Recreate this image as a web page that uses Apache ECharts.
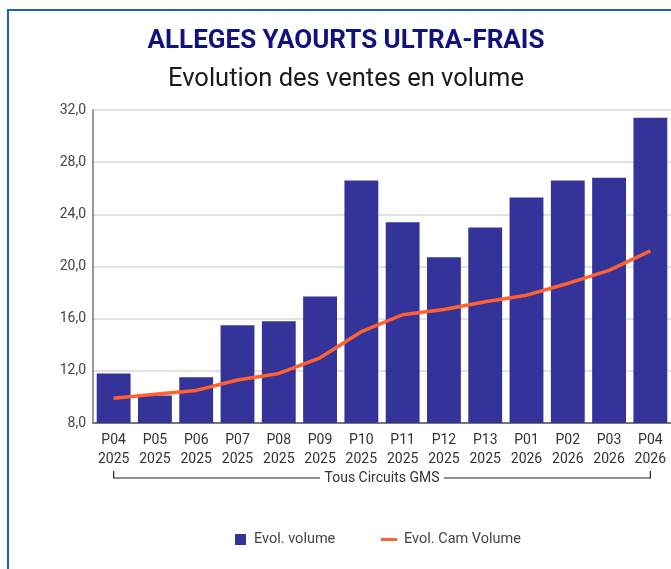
<!DOCTYPE html>
<html>
<head>
<meta charset="utf-8">
<script src="https://cdn.jsdelivr.net/npm/echarts@6/dist/echarts.min.js"></script>
<style>
	html, body { margin: 0; padding: 0; background: #fff; overflow: hidden; }
	#frame {
		position: absolute; left: 7px; top: 9px;
		width: 674px; height: 580px;
		border: 2px solid #1E5FAF;
	}
	#main { width: 674px; height: 580px; }
</style>
</head>
<body>
<div id="frame"><div id="main"></div></div>
<script>
	var periods = ['P04', 'P05', 'P06', 'P07', 'P08', 'P09', 'P10', 'P11', 'P12', 'P13', 'P01', 'P02', 'P03', 'P04'];
	var years = ['2025', '2025', '2025', '2025', '2025', '2025', '2025', '2025', '2025', '2025', '2026', '2026', '2026', '2026'];
	var volume = [11.8, 10.1, 11.5, 15.5, 15.8, 17.7, 26.6, 23.4, 20.7, 23.0, 25.3, 26.6, 26.8, 31.4];
	var camVolume = [9.9, 10.2, 10.5, 11.3, 11.8, 13.0, 15.0, 16.3, 16.7, 17.3, 17.8, 18.7, 19.7, 21.2];
	var groupLabel = 'Tous Circuits GMS';

	var categories = periods.map(function(p, i) {
		return p + '\n' + years[i];
	});

	var myChart = echarts.init(document.getElementById('main'));
	var font = 'Roboto, "Noto Sans", sans-serif';

	var option = {
		backgroundColor: '#fff',
		animation: false,
		textStyle: { fontFamily: font },
		title: [{
			text: 'ALLEGES YAOURTS ULTRA-FRAIS',
			left: 'center',
			top: 12,
			textStyle: {
				color: '#11117F',
				fontSize: 26,
				fontWeight: 'bold',
				fontFamily: font
			}
		}, {
			text: 'Evolution des ventes en volume',
			left: 'center',
			top: 51,
			textStyle: {
				color: '#1a1a1a',
				fontSize: 25.5,
				fontWeight: 'normal',
				fontFamily: font
			}
		}],
		legend: [{
			data: ['Evol. volume'],
			left: 221,
			top: 516,
			icon: 'rect',
			itemWidth: 11,
			itemHeight: 11,
			textStyle: { color: '#444', fontSize: 14.5, padding: [0, 0, 0, 3] }
		}, {
			data: ['Evol. Cam Volume'],
			left: 367,
			top: 516,
			icon: 'rect',
			itemWidth: 16,
			itemHeight: 3,
			textStyle: { color: '#444', fontSize: 14.5, padding: [0, 0, 0, 2] }
		}],
		grid: {
			left: 84,
			right: 12,
			top: 99,
			bottom: 168
		},
		xAxis: [{
			type: 'category',
			data: categories,
			axisTick: { show: false },
			axisLine: {
				lineStyle: { color: '#777', width: 2 }
			},
			axisLabel: {
				color: '#333',
				fontSize: 14,
				lineHeight: 19,
				margin: 8,
				interval: 0
			}
		}],
		yAxis: [{
			type: 'value',
			min: 8,
			max: 32,
			interval: 4,
			axisLine: {
				show: true,
				lineStyle: { color: '#777', width: 1.5 }
			},
			axisTick: { show: false },
			axisLabel: {
				color: '#444',
				fontSize: 14,
				margin: 7,
				formatter: function(v) {
					return v.toFixed(1).replace('.', ',');
				}
			},
			splitLine: {
				lineStyle: { color: '#d9d9d9', width: 1.5 }
			}
		}],
		series: [{
			name: 'Evol. volume',
			type: 'bar',
			data: volume,
			barCategoryGap: '18%',
			itemStyle: { color: '#333399' }
		}, {
			name: 'Evol. Cam Volume',
			type: 'line',
			data: camVolume,
			showSymbol: false,
			symbol: 'none',
			itemStyle: { color: '#FF6130' },
			lineStyle: { color: '#FF6130', width: 3.5 }
		}]
	};
	myChart.setOption(option);

	// bracket under the axis labels, placed from the axis scale
	function drawBracket() {
		var x0 = myChart.convertToPixel({ xAxisIndex: 0 }, categories[0]);
		var x1 = myChart.convertToPixel({ xAxisIndex: 0 }, categories[categories.length - 1]);
		var y = myChart.convertToPixel({ yAxisIndex: 0 }, 8) + 55;
		var mid = (x0 + x1) / 2;
		var halfText = 62;
		myChart.setOption({
			graphic: [{
				type: 'polyline',
				shape: { points: [[x0, y - 7], [x0, y], [mid - halfText, y]] },
				style: { stroke: '#222', lineWidth: 1.2, fill: null },
				silent: true
			}, {
				type: 'polyline',
				shape: { points: [[mid + halfText, y], [x1, y], [x1, y - 7]] },
				style: { stroke: '#222', lineWidth: 1.2, fill: null },
				silent: true
			}, {
				type: 'text',
				x: mid,
				y: y,
				style: {
					text: groupLabel,
					fill: '#333',
					font: '14px ' + font,
					align: 'center',
					verticalAlign: 'middle'
				},
				silent: true
			}]
		});
	}
	drawBracket();
</script>
</body>
</html>
